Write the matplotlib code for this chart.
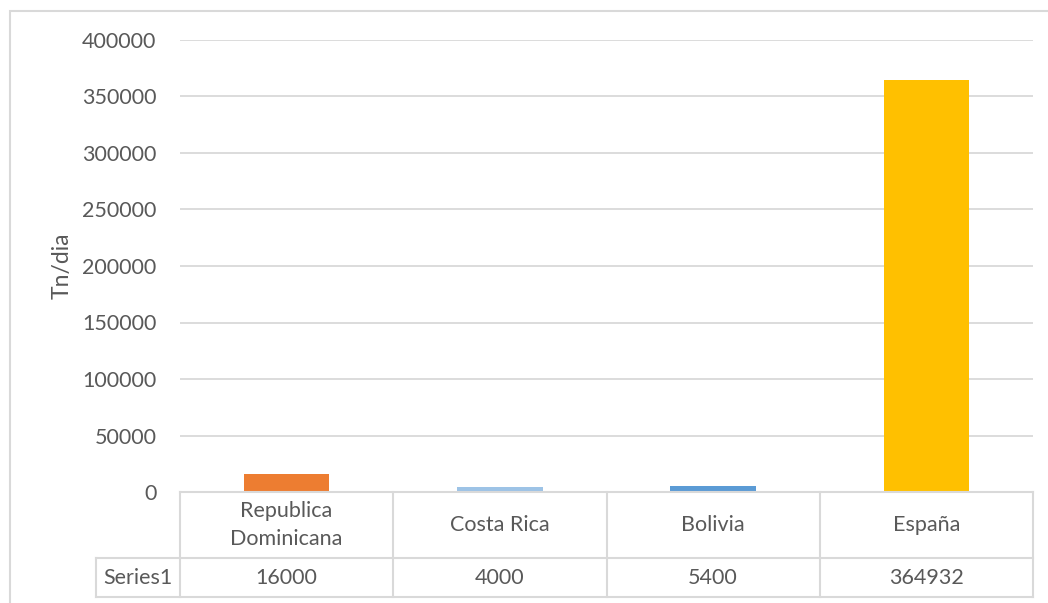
import matplotlib
matplotlib.use("Agg")
import matplotlib.pyplot as plt
from matplotlib.patches import Rectangle

# Data
categories = ["Republica\nDominicana", "Costa Rica", "Bolivia", "España"]
series_name = "Series1"
values = [16000, 4000, 5400, 364932]
bar_colors = ["#ED7D31", "#9DC3E6", "#5B9BD5", "#FFC000"]
y_ticks = [0, 50000, 100000, 150000, 200000, 250000, 300000, 350000, 400000]
y_label = "Tn/dia"

TEXT = "#595959"
GRID = "#D9D9D9"
FONT = "Lato"
FS = 15.5

W, H = 1048, 603
fig = plt.figure(figsize=(W / 100, H / 100), dpi=100)
plt.rcParams["font.family"] = [FONT, "DejaVu Sans"]

def fx(px):
    return px / W

def fy(py):
    return 1 - py / H

# Outer chart frame
fig.patches.append(Rectangle((fx(9.5), fy(H + 20)), fx(W + 20), (H + 20 - 10.5) / H,
                             transform=fig.transFigure, fill=False,
                             edgecolor=GRID, linewidth=1.5))

# Plot area
left, right, top, bottom = 180, 1033, 40, 492
ax = fig.add_axes([fx(left), fy(bottom), fx(right - left), (bottom - top) / H])
x = list(range(len(values)))
ax.bar(x, values, width=0.4, color=bar_colors, zorder=3)
ax.set_xlim(-0.5, len(values) - 0.5)
ax.set_ylim(y_ticks[0], y_ticks[-1])
ax.set_yticks(y_ticks)
ax.set_yticklabels([str(t) for t in y_ticks], fontsize=FS, color=TEXT)
ax.set_xticks([])
ax.tick_params(axis="y", length=0, pad=17)
for s in ax.spines.values():
    s.set_visible(False)
ax.grid(axis="y", color=GRID, linewidth=1.3, zorder=0)
ax.set_facecolor("none")
fig.text(fx(62), fy((top + bottom) / 2), y_label, rotation=90, ha="center",
         va="center", fontsize=FS + 1, color=TEXT)

# Data table under the axis
label_col = 96
row_top, row_mid, row_bot = 492, 558, 597
unit = (right - left) / len(values)
tax = fig.add_axes([fx(label_col), fy(row_bot), fx(right - label_col), (row_bot - row_top) / H])
x_left = -0.5 - (left - label_col) / unit
tax.set_xlim(x_left, len(values) - 0.5)
tax.set_ylim(row_bot, row_top)
tax.axis("off")
lw = 1.5
for k in range(len(values) + 1):
    tax.plot([k - 0.5, k - 0.5], [row_top, row_bot], color=GRID, lw=lw, clip_on=False)
tax.plot([x_left, x_left], [row_mid, row_bot], color=GRID, lw=lw, clip_on=False)
tax.plot([-0.5, len(values) - 0.5], [row_top, row_top], color=GRID, lw=lw, clip_on=False)
for yy in (row_mid, row_bot):
    tax.plot([x_left, len(values) - 0.5], [yy, yy], color=GRID, lw=lw, clip_on=False)
for i, (c, v) in enumerate(zip(categories, values)):
    tax.text(i, (row_top + row_mid) / 2, c, ha="center", va="center",
             fontsize=FS, color=TEXT, linespacing=1.45)
    tax.text(i, (row_mid + row_bot) / 2, str(v), ha="center", va="center",
             fontsize=FS, color=TEXT)
tax.text((x_left - 0.5) / 2, (row_mid + row_bot) / 2, series_name, ha="center",
         va="center", fontsize=FS, color=TEXT)

fig.savefig("out.png", dpi=100)
